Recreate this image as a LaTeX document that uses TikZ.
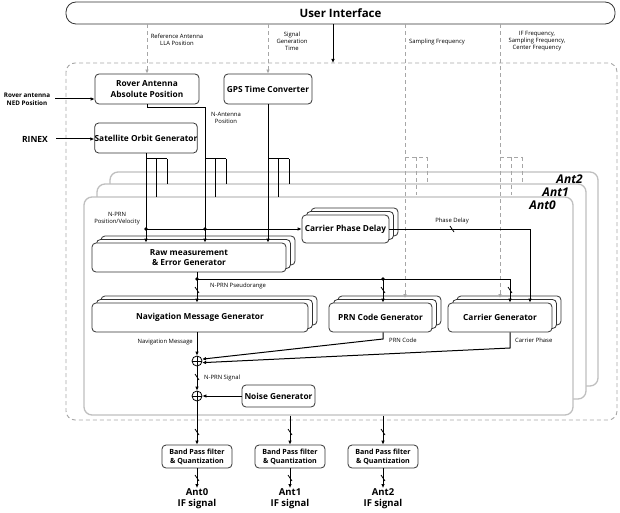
\documentclass[tikz,border=0pt]{standalone}
\usepackage{fontspec}
\setmainfont{Open Sans}
\usetikzlibrary{arrows.meta,shadows}
\begin{document}
\begin{tikzpicture}[x=1pt,y=-1pt,
  box/.style={draw=black!80, line width=0.8pt, fill=white, rounded corners=4pt, inner sep=0pt, align=center, font=\bfseries\fontsize{8.3}{10.5}\selectfont},
  stackbox/.style={box,
     copy shadow={shadow xshift=9pt, shadow yshift=7pt, draw=black!80, line width=0.8pt, fill=white},
     copy shadow={shadow xshift=4.5pt, shadow yshift=3.5pt, draw=black!80, line width=0.8pt, fill=white}},
  frame/.style={draw=gray!50, line width=1.3pt, fill=white, rounded corners=8pt, inner sep=0pt},
  lbl/.style={font=\fontsize{5.9}{7}\selectfont, align=center, inner sep=0pt},
  blbl/.style={font=\bfseries\fontsize{6.3}{7.6}\selectfont, align=center, inner sep=0pt},
  antlbl/.style={font=\bfseries\itshape\fontsize{12}{13}\selectfont, inner sep=0pt},
  outlbl/.style={font=\bfseries\fontsize{9.5}{11.5}\selectfont, align=center, inner sep=0pt},
  bpbox/.style={box, minimum width=70pt, minimum height=23pt, font=\bfseries\fontsize{7.1}{9.2}\selectfont},
  conn/.style={draw=black, line width=1pt},
  arr/.style={conn, -{Latex[length=4pt,width=3.6pt]}},
  dsh/.style={draw=gray!70, line width=0.9pt, dash pattern=on 4pt off 3pt},
  darr/.style={dsh, -{Latex[length=4pt,width=3.6pt]}},
  add/.style={circle, draw=black, line width=0.8pt, fill=white, minimum size=10pt, inner sep=0pt,
     path picture={\draw[line width=0.6pt] (path picture bounding box.north) -- (path picture bounding box.south) (path picture bounding box.west) -- (path picture bounding box.east);}},
  bus/.pic={\draw[line width=0.8pt] (-2,-3) -- (2,3);},
  dot/.style={circle, fill=black, inner sep=0pt, minimum size=3.6pt}
]
\useasboundingbox (0,0) rectangle (620,513);

% user interface
\node[box, minimum width=549pt, minimum height=22pt, rounded corners=10pt, font=\bfseries\fontsize{11.5}{13}\selectfont] (ui) at (340.5,13) {User Interface};

% outer dashed region
\draw[dsh, rounded corners=9pt] (66,63) rectangle (617,420);

% antenna frames
\node[frame, minimum width=488pt, minimum height=214pt] (a2) at (354,279) {};
\node[frame, minimum width=489pt, minimum height=215pt] (a1) at (341.5,291.5) {};
\node[frame, minimum width=489pt, minimum height=218pt] (a0) at (328.5,306) {};
\node[antlbl, anchor=east] (l2) at (583,179) {Ant2};
\node[antlbl, anchor=east] (l1) at (569,192) {Ant1};
\node[antlbl, anchor=east] (l0) at (556,205) {Ant0};

% top boxes
\node[box, minimum width=104pt, minimum height=30pt] (rov) at (147,89) {Rover Antenna\\Absolute Position};
\node[box, minimum width=88pt, minimum height=30pt] (gps) at (268,89) {GPS Time Converter};
\node[box, minimum width=102pt, minimum height=30pt] (sat) at (146,138) {Satellite Orbit Generator};

% stacked boxes
\node[stackbox, minimum width=194pt, minimum height=29pt] (raw) at (189,257.5) {Raw measurement\\\& Error Generator};
\node[stackbox, minimum width=87pt, minimum height=28pt] (cpd) at (345.5,229) {Carrier Phase Delay};
\node[stackbox, minimum width=216pt, minimum height=29pt] (nav) at (200,317.5) {Navigation Message Generator};
\node[stackbox, minimum width=103pt, minimum height=29pt] (prn) at (380.5,317.5) {PRN Code Generator};
\node[stackbox, minimum width=104pt, minimum height=29pt] (car) at (500,317.5) {Carrier Generator};
\node[box, minimum width=73pt, minimum height=22pt] (noise) at (278.5,396) {Noise Generator};

% adders
\node[add] (add1) at (197,361) {};
\node[add] (add2) at (197,396) {};

% band pass filters
\node[bpbox] (bp0) at (197,456.5) {Band Pass filter\\\& Quantization};
\node[bpbox] (bp1) at (290,456.5) {Band Pass filter\\\& Quantization};
\node[bpbox] (bp2) at (383,456.5) {Band Pass filter\\\& Quantization};
\node[outlbl, anchor=north] (o0) at (197,488) {Ant0\\IF signal};
\node[outlbl, anchor=north] (o1) at (290,488) {Ant1\\IF signal};
\node[outlbl, anchor=north] (o2) at (383,488) {Ant2\\IF signal};

% external inputs
\node[blbl] (ned) at (27,99) {Rover antenna\\NED Position};
\node[font=\bfseries\fontsize{8.5}{10}\selectfont, inner sep=0pt] (rinex) at (35,139) {RINEX};
\draw[arr] (55,99) -- (rov.west |- ned);
\draw[arr] (56,139) -- (sat.west |- rinex);

% UI outputs
\coordinate (ot) at (333,63);
\draw[arr] (ui.south -| ot) -- (ot);
\draw[darr] (rov.north |- ui.south) -- (rov.north);
\draw[darr] (gps.north |- ui.south) -- (gps.north);
\node[lbl] (t1) at (177,40) {Reference Antenna\\LLA Position};
\node[lbl] (t2) at (292,41) {Signal\\Generation\\Time};
\node[lbl, anchor=west] (t3) at (409,42) {Sampling Frequency};
\node[lbl] (t4) at (537,41) {IF Frequency,\\Sampling Frequency,\\Center Frequency};

\coordinate (sf) at (405,157);
\coordinate (cf) at (500,157);
\draw[darr] (sf |- ui.south) -- (405,298);
\draw[darr] (cf |- ui.south) -- (500,298);
\foreach \c in {sf,cf}{
  \draw[dsh] (\c) -- ++(22,0);
  \draw[dsh] ([xshift=11pt]\c) -- ++(0,38);
  \draw[dsh] ([xshift=22pt]\c) -- ++(0,27);
}

% position / time columns
\coordinate (rx) at (205,108);
\draw[arr] (sat.south) -- (sat.south |- raw.north);
\draw[arr] (rov.south) |- (rx) -- (rx |- raw.north);
\draw[arr] (gps.south) -- (gps.south |- raw.north);
\node[lbl] (t5) at (226,118) {N-Antenna\\Position};
\foreach \xx in {146,205,268}{
  \draw[conn] (\xx,159) -- ++(21,0);
  \draw[conn] (\xx+10,159) -- (\xx+10,197);
  \draw[conn] (\xx+21,159) -- (\xx+21,184);
}

% N-PRN position/velocity
\coordinate (pv) at (146,229);
\node[lbl] (t6) at (117,219) {N-PRN\\Position/Velocity};
\draw[arr] (pv) -- (cpd.west);
\node[dot] (d1) at (pv) {};
\node[dot] (d2) at (205,229) {};

% phase delay
\coordinate (pd) at (530,229);
\draw[arr] (cpd.east) -- (pd) -- (pd |- car.north);
\node[lbl] (t7) at (452,221) {Phase Delay};
\pic at (452,229) {bus};

% pseudorange
\coordinate (pr) at (197,279);
\coordinate (pp) at (383,279);
\coordinate (pc) at (510,279);
\draw[arr] (pr |- raw.south) -- (pr |- nav.north);
\draw[conn] (pr) -- (pc);
\draw[arr] (pp) -- (pp |- prn.north);
\draw[arr] (pc) -- (pc |- car.north);
\node[dot] (d3) at (pr) {};
\node[dot] (d4) at (pp) {};
\node[lbl, anchor=west] (t8) at (210,286) {N-PRN Pseudorange};
\pic at (197,290) {bus};
\pic at (383,290) {bus};
\pic at (510,290) {bus};

% navigation / code / carrier to adder
\draw[arr] (nav.south -| add1) -- (add1.north);
\node[lbl, anchor=east] (t9) at (193,342) {Navigation Message};
\coordinate (kc) at (383,339);
\coordinate (kp) at (510,348);
\draw[arr] (prn.south -| kc) -- (kc) -- (add1.20);
\draw[arr] (car.south -| kp) -- (kp) -- (add1.-18);
\node[lbl, anchor=west] (t10) at (389,340) {PRN Code};
\node[lbl, anchor=west] (t11) at (515,340) {Carrier Phase};

% signal + noise
\draw[arr] (add1.south) -- (add2.north);
\pic at (197,377) {bus};
\node[lbl, anchor=west] (t12) at (204,378) {N-PRN Signal};
\draw[arr] (noise.west) -- (add2.east);

% outputs
\draw[arr] (add2.south) -- (bp0.north);
\draw[arr] (bp1.north |- a0.south) -- (bp1.north);
\draw[arr] (bp2.north |- a0.south) -- (bp2.north);
\draw[arr] (bp0.south) -- (o0.north);
\draw[arr] (bp1.south) -- (o1.north);
\draw[arr] (bp2.south) -- (o2.north);
\foreach \xx in {197,290,383}{
  \pic at (\xx,432) {bus};
  \pic at (\xx,478) {bus};
}
\end{tikzpicture}
\end{document}
